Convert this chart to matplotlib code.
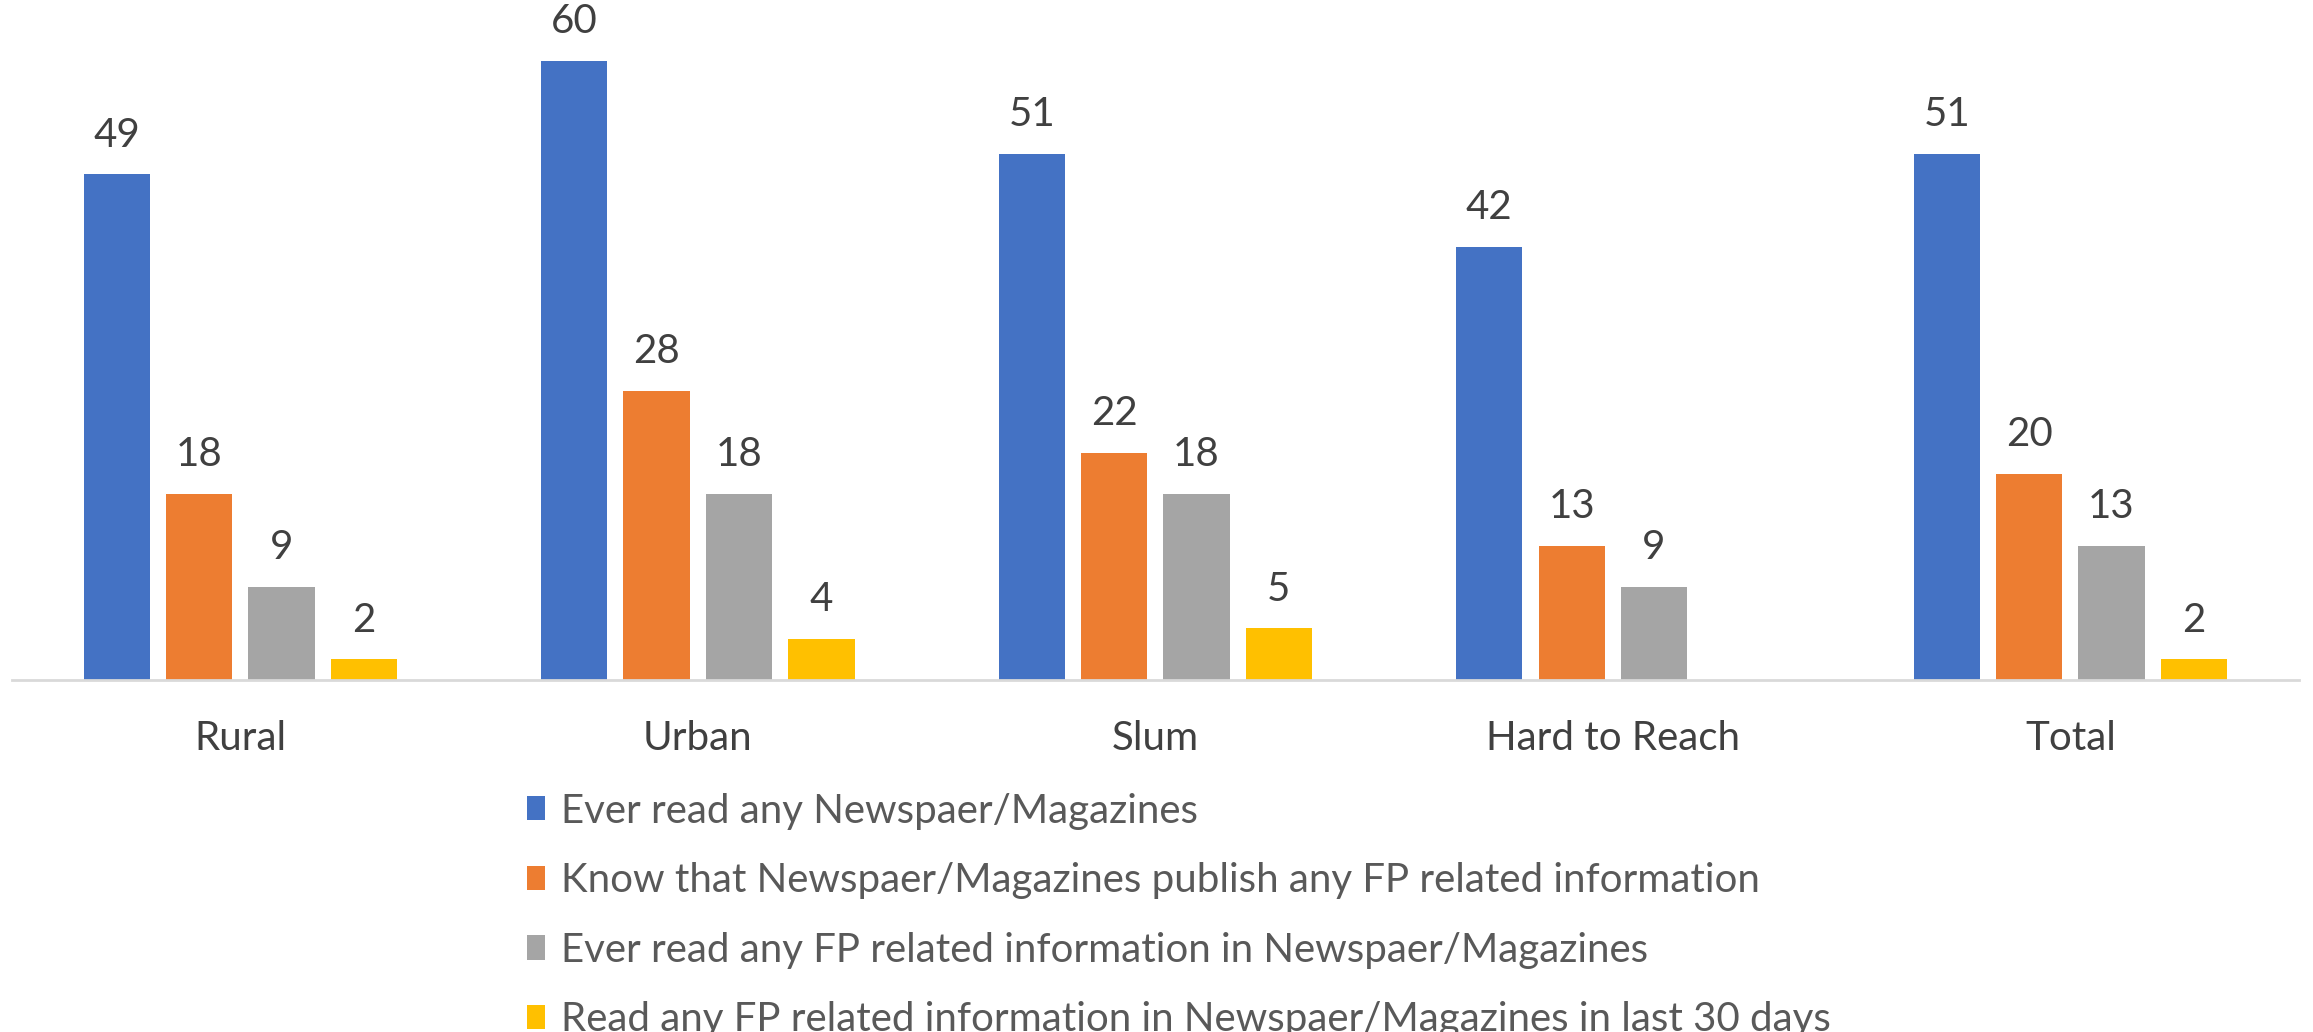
import numpy as np
import matplotlib
matplotlib.use("Agg")
import matplotlib.pyplot as plt
from matplotlib.patches import Patch

categories = ["Rural", "Urban", "Slum", "Hard to Reach", "Total"]
series_names = [
    "Ever read any Newspaer/Magazines",
    "Know that Newspaer/Magazines publish any FP related information",
    "Ever read any FP related information in Newspaer/Magazines",
    "Read any FP related information in Newspaer/Magazines in last 30 days",
]
ever_read = [49, 60, 51, 42, 51]
know_publish = [18, 28, 22, 13, 20]
ever_read_fp = [9, 18, 18, 9, 13]
read_fp_30d = [2, 4, 5, None, 2]

colors = ["#4472C4", "#ED7D31", "#A5A5A5", "#FFC000"]

plt.rcParams["font.family"] = ["Lato", "DejaVu Sans"]

fig = plt.figure(figsize=(23.13, 10.32), dpi=100)
ax = fig.add_axes([0.005, 0.341, 0.989, 0.65])

x = np.arange(len(categories))
step = 0.18
width = 0.145
all_series = [ever_read, know_publish, ever_read_fp, read_fp_30d]
for j, (vals, col) in enumerate(zip(all_series, colors)):
    v = np.array([np.nan if a is None else a for a in vals], dtype=float)
    bars = ax.bar(x + (j - 1.5) * step, v, width, color=col, zorder=2)
    labels = ["" if np.isnan(a) else f"{a:.0f}" for a in v]
    ax.bar_label(bars, labels=labels, padding=15, fontsize=29, color="#404040")

ax.set_xlim(-0.5, len(categories) - 0.5)
ax.set_ylim(0, 65)
ax.set_xticks(x)
ax.set_xticklabels(categories, fontsize=29, color="#404040")
ax.tick_params(axis="x", length=0, pad=29)
ax.set_yticks([])
for s in ["top", "right", "left"]:
    ax.spines[s].set_visible(False)
ax.spines["bottom"].set_color("#D9D9D9")
ax.spines["bottom"].set_linewidth(2)

handles = [Patch(facecolor=c, edgecolor="none") for c in colors]
fig.legend(handles, series_names, loc="upper left",
           bbox_to_anchor=(0.2277, 0.232), frameon=False,
           fontsize=29, labelcolor="#595959",
           handlelength=0.45, handleheight=0.55, handletextpad=0.4,
           labelspacing=0.81, borderpad=0, borderaxespad=0)

fig.savefig("out.png", dpi=100)
